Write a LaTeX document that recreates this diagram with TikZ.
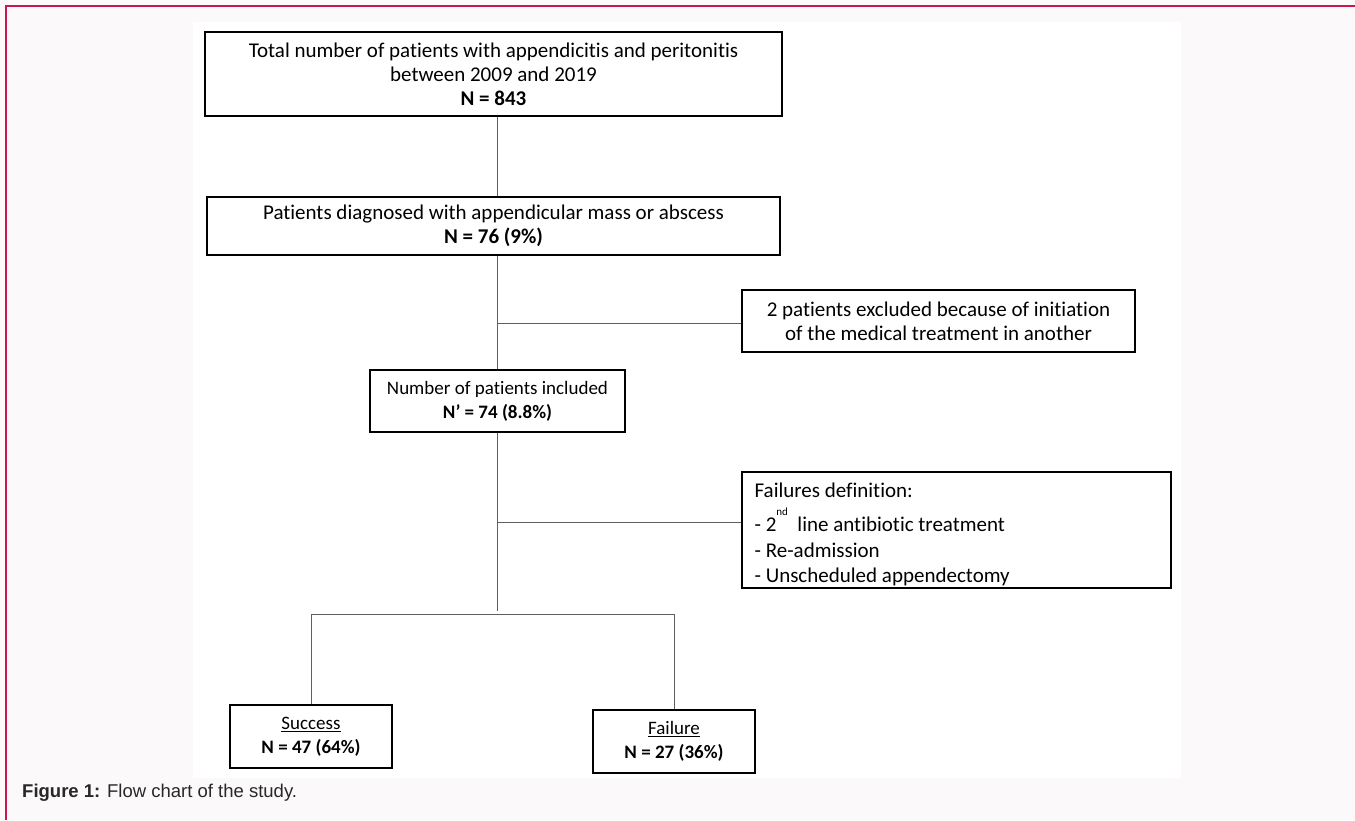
\documentclass[tikz,border=0pt]{standalone}
\usepackage{fontspec}
\setmainfont{Carlito}[Ligatures=NoCommon]
\newfontfamily\capfont{Liberation Sans}
\usetikzlibrary{positioning}
\definecolor{pagebg}{RGB}{251,249,250}
\definecolor{framered}{RGB}{204,22,78}
\definecolor{linkgray}{RGB}{95,95,95}
\definecolor{captext}{RGB}{40,40,40}

\begin{document}
\begin{tikzpicture}[
            x=1pt, y=-1pt,
            font=\fontsize{21}{24}\selectfont,
            box/.style={draw, line width=1.2pt, fill=white, inner sep=0pt, align=center},
            small/.style={font=\fontsize{19}{24}\selectfont},
            link/.style={draw=linkgray, line width=0.9pt},
        ]
            % page, frame and white panel
            \useasboundingbox (0,0) rectangle (1355,820);
            \fill[pagebg] (0,0) rectangle (1355,820);
            \draw[framered, line width=1.8pt] (6,820) -- (6,6) -- (1355,6);
            \fill[white] (193,22) rectangle (1181,778);

            % boxes
            \node[box, minimum width=577pt, minimum height=84pt] (total) at (493.5,74)
                {Total number of patients with appendicitis and peritonitis\\
                 between 2009 and 2019\\ \textbf{N = 843}};
            \node[box, minimum width=573pt, minimum height=58pt] (mass) at (493.5,226)
                {Patients diagnosed with appendicular mass or abscess\\ \textbf{N = 76 (9\%)}};
            \node[box, minimum width=393pt, minimum height=62pt] (excluded) at (938.5,321)
                {2 patients excluded because of initiation\\ of the medical treatment in another};
            \node[box, small, minimum width=255pt, minimum height=62pt] (included) at (497.5,401)
                {Number of patients included\\ \textbf{N’ = 74 (8.8\%)}};
            \node[box, minimum width=429pt, minimum height=116pt,
                path picture={
                    \node[anchor=north west, inner sep=0pt, align=left, draw=none, fill=none,
                          minimum width=0pt, minimum height=0pt,
                          font=\fontsize{21}{25.5}\selectfont]
                        at ([xshift=12pt, yshift=-10pt]path picture bounding box.north west)
                        {Failures definition:\\[9pt]
                         - 2\raisebox{1.6ex}{\fontsize{11}{11}\selectfont nd}\ \ line antibiotic treatment\\
                         - Re-admission\\
                         - Unscheduled appendectomy};
                }] (faildef) at (956.5,530) {};
            \node[box, small, minimum width=162pt, minimum height=63pt] (success) at (311,736.5)
                {\underline{Success}\\ \textbf{N = 47 (64\%)}};
            \node[box, small, minimum width=162pt, minimum height=63pt] (failure) at (674,741.5)
                {\underline{Failure}\\ \textbf{N = 27 (36\%)}};

            % junctions on the main line
            \coordinate (trunk) at (497,0);
            \coordinate (exjoin) at (497,323);
            \coordinate (defjoin) at (497,522);
            \coordinate (split) at (497,614);

            % connectors
            \draw[link] (total.south -| trunk) -- (mass.north -| trunk);
            \draw[link] (mass.south -| trunk) -- (included.north -| trunk);
            \draw[link] (exjoin) -- (exjoin -| excluded.west);
            \draw[link] (included.south -| trunk) -- ([yshift=3pt]split);
            \draw[link] (defjoin) -- (defjoin -| faildef.west);
            \draw[link] (success.north) -- (split -| success.north)
                -- (split -| failure.north) -- (failure.north);

            % caption
            \node[anchor=base west, inner sep=0pt, text=captext,
                  font=\capfont\fontsize{18.5}{21}\selectfont] (caption) at (22,797)
                {\textbf{Figure 1:} Flow chart of the study.};
        \end{tikzpicture}
\end{document}
